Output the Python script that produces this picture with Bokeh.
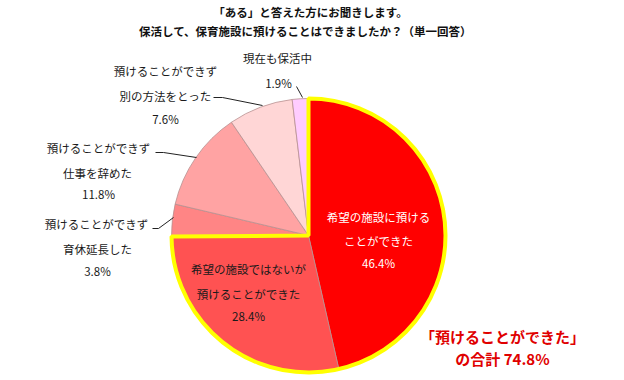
import numpy as np
from bokeh.plotting import figure
from bokeh.models import Range1d, ColumnDataSource
from bokeh.core.properties import value
from bokeh.embed import file_html
from bokeh.resources import INLINE

# ---- data ----
categories = [
    "希望の施設に預けることができた",
    "希望の施設ではないが預けることができた",
    "預けることができず育休延長した",
    "預けることができず仕事を辞めた",
    "預けることができず別の方法をとった",
    "現在も保活中",
]
shares = [46.4, 28.4, 3.8, 11.8, 7.6, 1.9]
label_lines = [
    ["希望の施設に預ける", "ことができた"],
    ["希望の施設ではないが", "預けることができた"],
    ["預けることができず", "育休延長した"],
    ["預けることができず", "仕事を辞めた"],
    ["預けることができず", "別の方法をとった"],
    ["現在も保活中"],
]
total_label = ["「預けることができた」", "の合計 74.8%"]
title_lines = ["「ある」と答えた方にお聞きします。",
               "保活して、保育施設に預けることはできましたか？（単一回答）"]

# ---- styles / layout ----
colors = ["#FF0000", "#FF5252", "#FF8585", "#FFA3A3", "#FFD6D6", "#FFCCFF"]
text_colors = ["#FFFFFF", "#1a1a1a", "#1a1a1a", "#1a1a1a", "#1a1a1a", "#1a1a1a"]
FONT = value("Noto Sans CJK JP")
W, H = 624, 380

def X(sx):
    return sx

def Y(sy):
    return H - sy

CX, CY, R = 308, 235, 137
label_pos = [
    [(378, 216), (378, 240), (378, 262)],
    [(248, 268), (248, 293), (248, 315)],
    [(96, 223), (97, 248), (97, 270)],
    [(98, 147), (97, 172), (98, 193)],
    [(165, 70), (165, 95), (165, 118)],
    [(277, 57), (278, 82)],
]
leaders = [
    None, None,
    [(152, 228), (158, 228), (173, 217)],
    [(155, 152), (163, 152), (196, 157)],
    [(213, 97), (222, 97), (262, 105)],
    [(296, 86), (302, 97)],
]

p = figure(width=W, height=H, output_backend="svg", toolbar_location=None,
           x_range=Range1d(0, W), y_range=Range1d(0, H), min_border=0)
p.axis.visible = False
p.grid.visible = False
p.outline_line_color = None
p.background_fill_color = "white"

vals = np.array(shares, dtype=float)
frac = vals / vals.sum()
cum = np.concatenate([[0], np.cumsum(frac)])
start = np.pi / 2 - 2 * np.pi * cum[:-1]
end = np.pi / 2 - 2 * np.pi * cum[1:]

src = ColumnDataSource(dict(start=start, end=end, color=colors))
p.wedge(x=X(CX), y=Y(CY), radius=R, start_angle="start", end_angle="end",
        direction="clock", fill_color="color", line_color="#b89090",
        line_width=0.8, source=src)

p.wedge(x=X(CX), y=Y(CY), radius=R, start_angle=start[0], end_angle=end[1],
        direction="clock", fill_color=None, line_color="#FFFF00", line_width=4)

for ld in leaders:
    if ld:
        p.line([X(a) for a, b in ld], [Y(b) for a, b in ld],
               line_color="#222222", line_width=1)

for i, lines in enumerate(label_lines):
    texts = lines + [f"{shares[i]:.1f}%"]
    for t, (sx, sy) in zip(texts, label_pos[i]):
        p.text(x=[X(sx)], y=[Y(sy)], text=[t], text_font=FONT,
               text_font_size="11.5px", text_color=text_colors[i],
               text_align="center", text_baseline="middle")

for t, (sx, sy) in zip(title_lines, [(310, 11), (305, 30)]):
    p.text(x=[X(sx)], y=[Y(sy)], text=[t], text_font=FONT,
           text_font_size="11.5px", text_font_style="bold", text_color="#111111",
           text_align="center", text_baseline="middle")

for t, (sx, sy) in zip(total_label, [(502, 336), (502, 358)]):
    p.text(x=[X(sx)], y=[Y(sy)], text=[t], text_font=FONT,
           text_font_size="15px", text_font_style="bold", text_color="#E00000",
           text_align="center", text_baseline="middle")

open("out.html", "w").write(file_html(p, INLINE))
